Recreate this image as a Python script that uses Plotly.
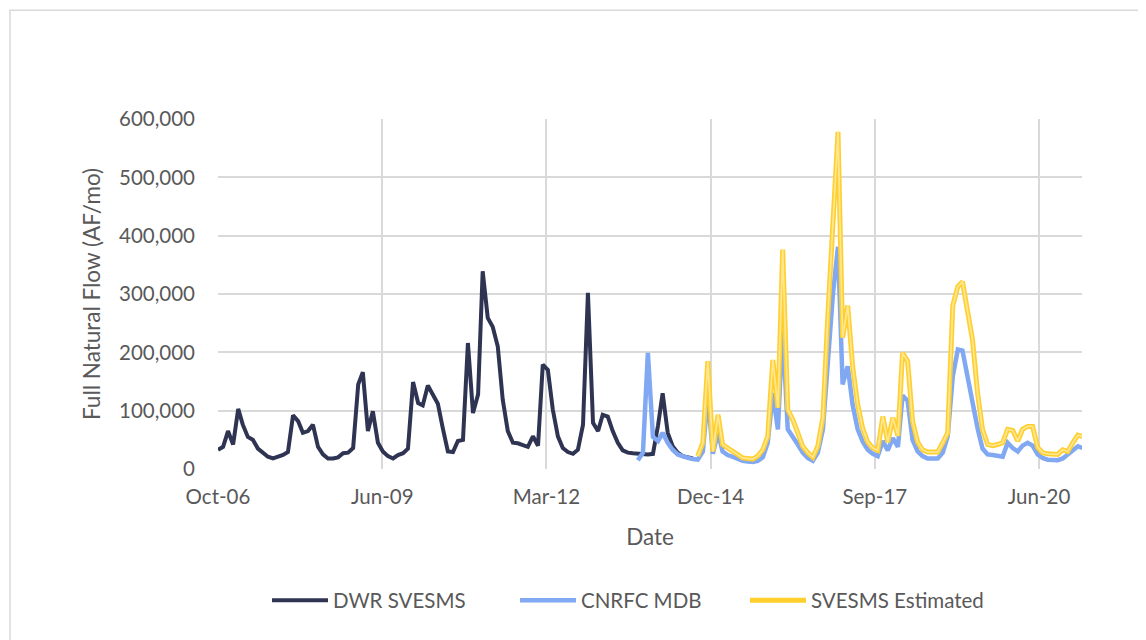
import pandas as pd
import plotly.graph_objects as go

# ---- data (thousand AF/mo, monthly from Oct-2006) ----
start = "2006-10-01"
dwr_svesms = [33, 38, 65, 42, 103, 76, 55, 50, 35, 27, 21, 18,
              21, 24, 29, 92, 82, 62, 65, 76, 38, 25, 18, 18,
              20, 27, 28, 36, 145, 166, 65, 99, 45, 30, 22, 18,
              24, 27, 35, 149, 113, 109, 143, 128, 112, 70, 30, 29,
              48, 50, 216, 96, 128, 339, 259, 244, 210, 119, 65, 45,
              44, 41, 38, 56, 40, 179, 170, 102, 56, 36, 29, 26,
              33, 76, 302, 79, 65, 93, 90, 65, 45, 32, 28, 27,
              26, 26, 25, 26, 75, 130, 62, 39, 28, 22, 20, 18]
cnrfc_start = "2013-10-01"
cnrfc_mdb = [15, 28, 199, 55, 48, 62, 45, 33, 25, 21, 19, 17,
             16, 30, 125, 26, 62, 30, 24, 21, 17, 14, 13, 12,
             14, 20, 45, 130, 68, 240, 68, 56, 42, 28, 19, 14,
             28, 68, 190, 300, 381, 145, 176, 110, 68, 47, 33, 26,
             22, 48, 32, 53, 38, 126, 117, 50, 30, 22, 18, 18,
             18, 28, 56, 159, 205, 203, 155, 110, 70, 35, 25, 24,
             22, 21, 45, 36, 30, 40, 45, 40, 25, 19, 16, 15,
             15, 18, 25, 33, 39, 36]
est_start = "2014-10-01"
svesms_est = [22, 45, 185, 30, 93, 42, 36, 30, 25, 19, 18, 17,
              22, 33, 56, 187, 105, 376, 102, 85, 62, 39, 28, 20,
              39, 88, 262, 432, 578, 225, 280, 176, 110, 70, 46, 36,
              32, 90, 46, 88, 57, 199, 185, 82, 46, 33, 29, 29,
              29, 45, 62, 280, 313, 321, 273, 222, 130, 68, 42, 40,
              42, 45, 68, 66, 48, 68, 73, 73, 37, 28, 26, 25,
              25, 33, 30, 45, 58, 56]

tick_dates = ["2006-10-01", "2009-06-27", "2012-03-23", "2014-12-18", "2017-09-13", "2020-06-09"]
tick_text = ["Oct-06", "Jun-09", "Mar-12", "Dec-14", "Sep-17", "Jun-20"]
y_ticks = [0, 100000, 200000, 300000, 400000, 500000, 600000]


def months(s, n):
    return pd.date_range(s, periods=n, freq="MS")


x_dwr = months(start, len(dwr_svesms))
x_cn = months(cnrfc_start, len(cnrfc_mdb))
x_est = months(est_start, len(svesms_est))

FONT = "Lato, Carlito, Calibri, sans-serif"
GREY = "#595959"

fig = go.Figure()
fig.add_trace(go.Scatter(x=x_dwr, y=[v * 1000 for v in dwr_svesms], mode="lines",
                         name="DWR SVESMS", legend="legend",
                         line=dict(color="#2F3452", width=4)))
fig.add_trace(go.Scatter(x=x_cn, y=[v * 1000 for v in cnrfc_mdb], mode="lines",
                         name="CNRFC MDB", legend="legend2",
                         line=dict(color="#80A8F3", width=4.5)))
fig.add_trace(go.Scatter(x=x_est, y=[v * 1000 for v in svesms_est], mode="lines",
                         name="SVESMS Estimated", legend="legend3",
                         line=dict(color="#FFCF2E", width=5)))
fig.add_trace(go.Scatter(x=x_est, y=[v * 1000 for v in svesms_est], mode="lines",
                         name="SVESMS Estimated", showlegend=False, hoverinfo="skip",
                         line=dict(color="#FFE68F", width=1.8)))

# page is offset by the 8px body margin, so work in page pixels minus 8
OFF = 8
W, H = 1146 - OFF, 640 - OFF
L, R = 218 - OFF, W - (1082 - OFF)
T, B = 119 - OFF, H - (469.5 - OFF)
pw, ph = W - L - R, H - T - B


def px(xp):
    return (xp - OFF - L) / pw


def py(yp):
    return (H - B - (yp - OFF)) / ph


def leg(x_line_start):
    return dict(orientation="h", x=px(x_line_start - 5), xanchor="left",
                y=py(601), yanchor="middle",
                font=dict(size=20.5, color=GREY), itemwidth=56,
                bgcolor="rgba(0,0,0,0)", borderwidth=0)


fig.update_layout(
    width=W, height=H,
    margin=dict(l=L, r=R, t=T, b=B),
    paper_bgcolor="white", plot_bgcolor="white",
    font=dict(family=FONT, color=GREY, size=20),
    showlegend=True,
    legend=leg(272), legend2=leg(520), legend3=leg(750),
    shapes=[dict(type="rect", xref="paper", yref="paper",
                 x0=px(10), x1=px(1170), y0=py(680), y1=py(10),
                 line=dict(color="#D9D9D9", width=1.5), fillcolor="rgba(0,0,0,0)", layer="below")],
)
fig.update_xaxes(
    type="date", range=["2006-10-01", "2021-02-26"],
    tickvals=tick_dates, ticktext=tick_text,
    showgrid=True, gridcolor="#D9D9D9", gridwidth=1.5,
    showline=False, zeroline=False, ticks="",
    tickfont=dict(size=20.5, color=GREY), ticklabelstandoff=13,
    title=dict(text="Date", font=dict(size=22.5, color=GREY), standoff=22),
)
fig.update_yaxes(
    range=[0, 600000], tickvals=y_ticks, tickformat=",",
    showgrid=True, gridcolor="#D9D9D9", gridwidth=1.5,
    showline=False, zeroline=False, ticks="",
    tickfont=dict(size=20.5, color=GREY), ticklabelstandoff=22,
    title=dict(text="Full Natural Flow (AF/mo)", font=dict(size=22.5, color=GREY), standoff=12),
)

fig.write_html("out.html")
